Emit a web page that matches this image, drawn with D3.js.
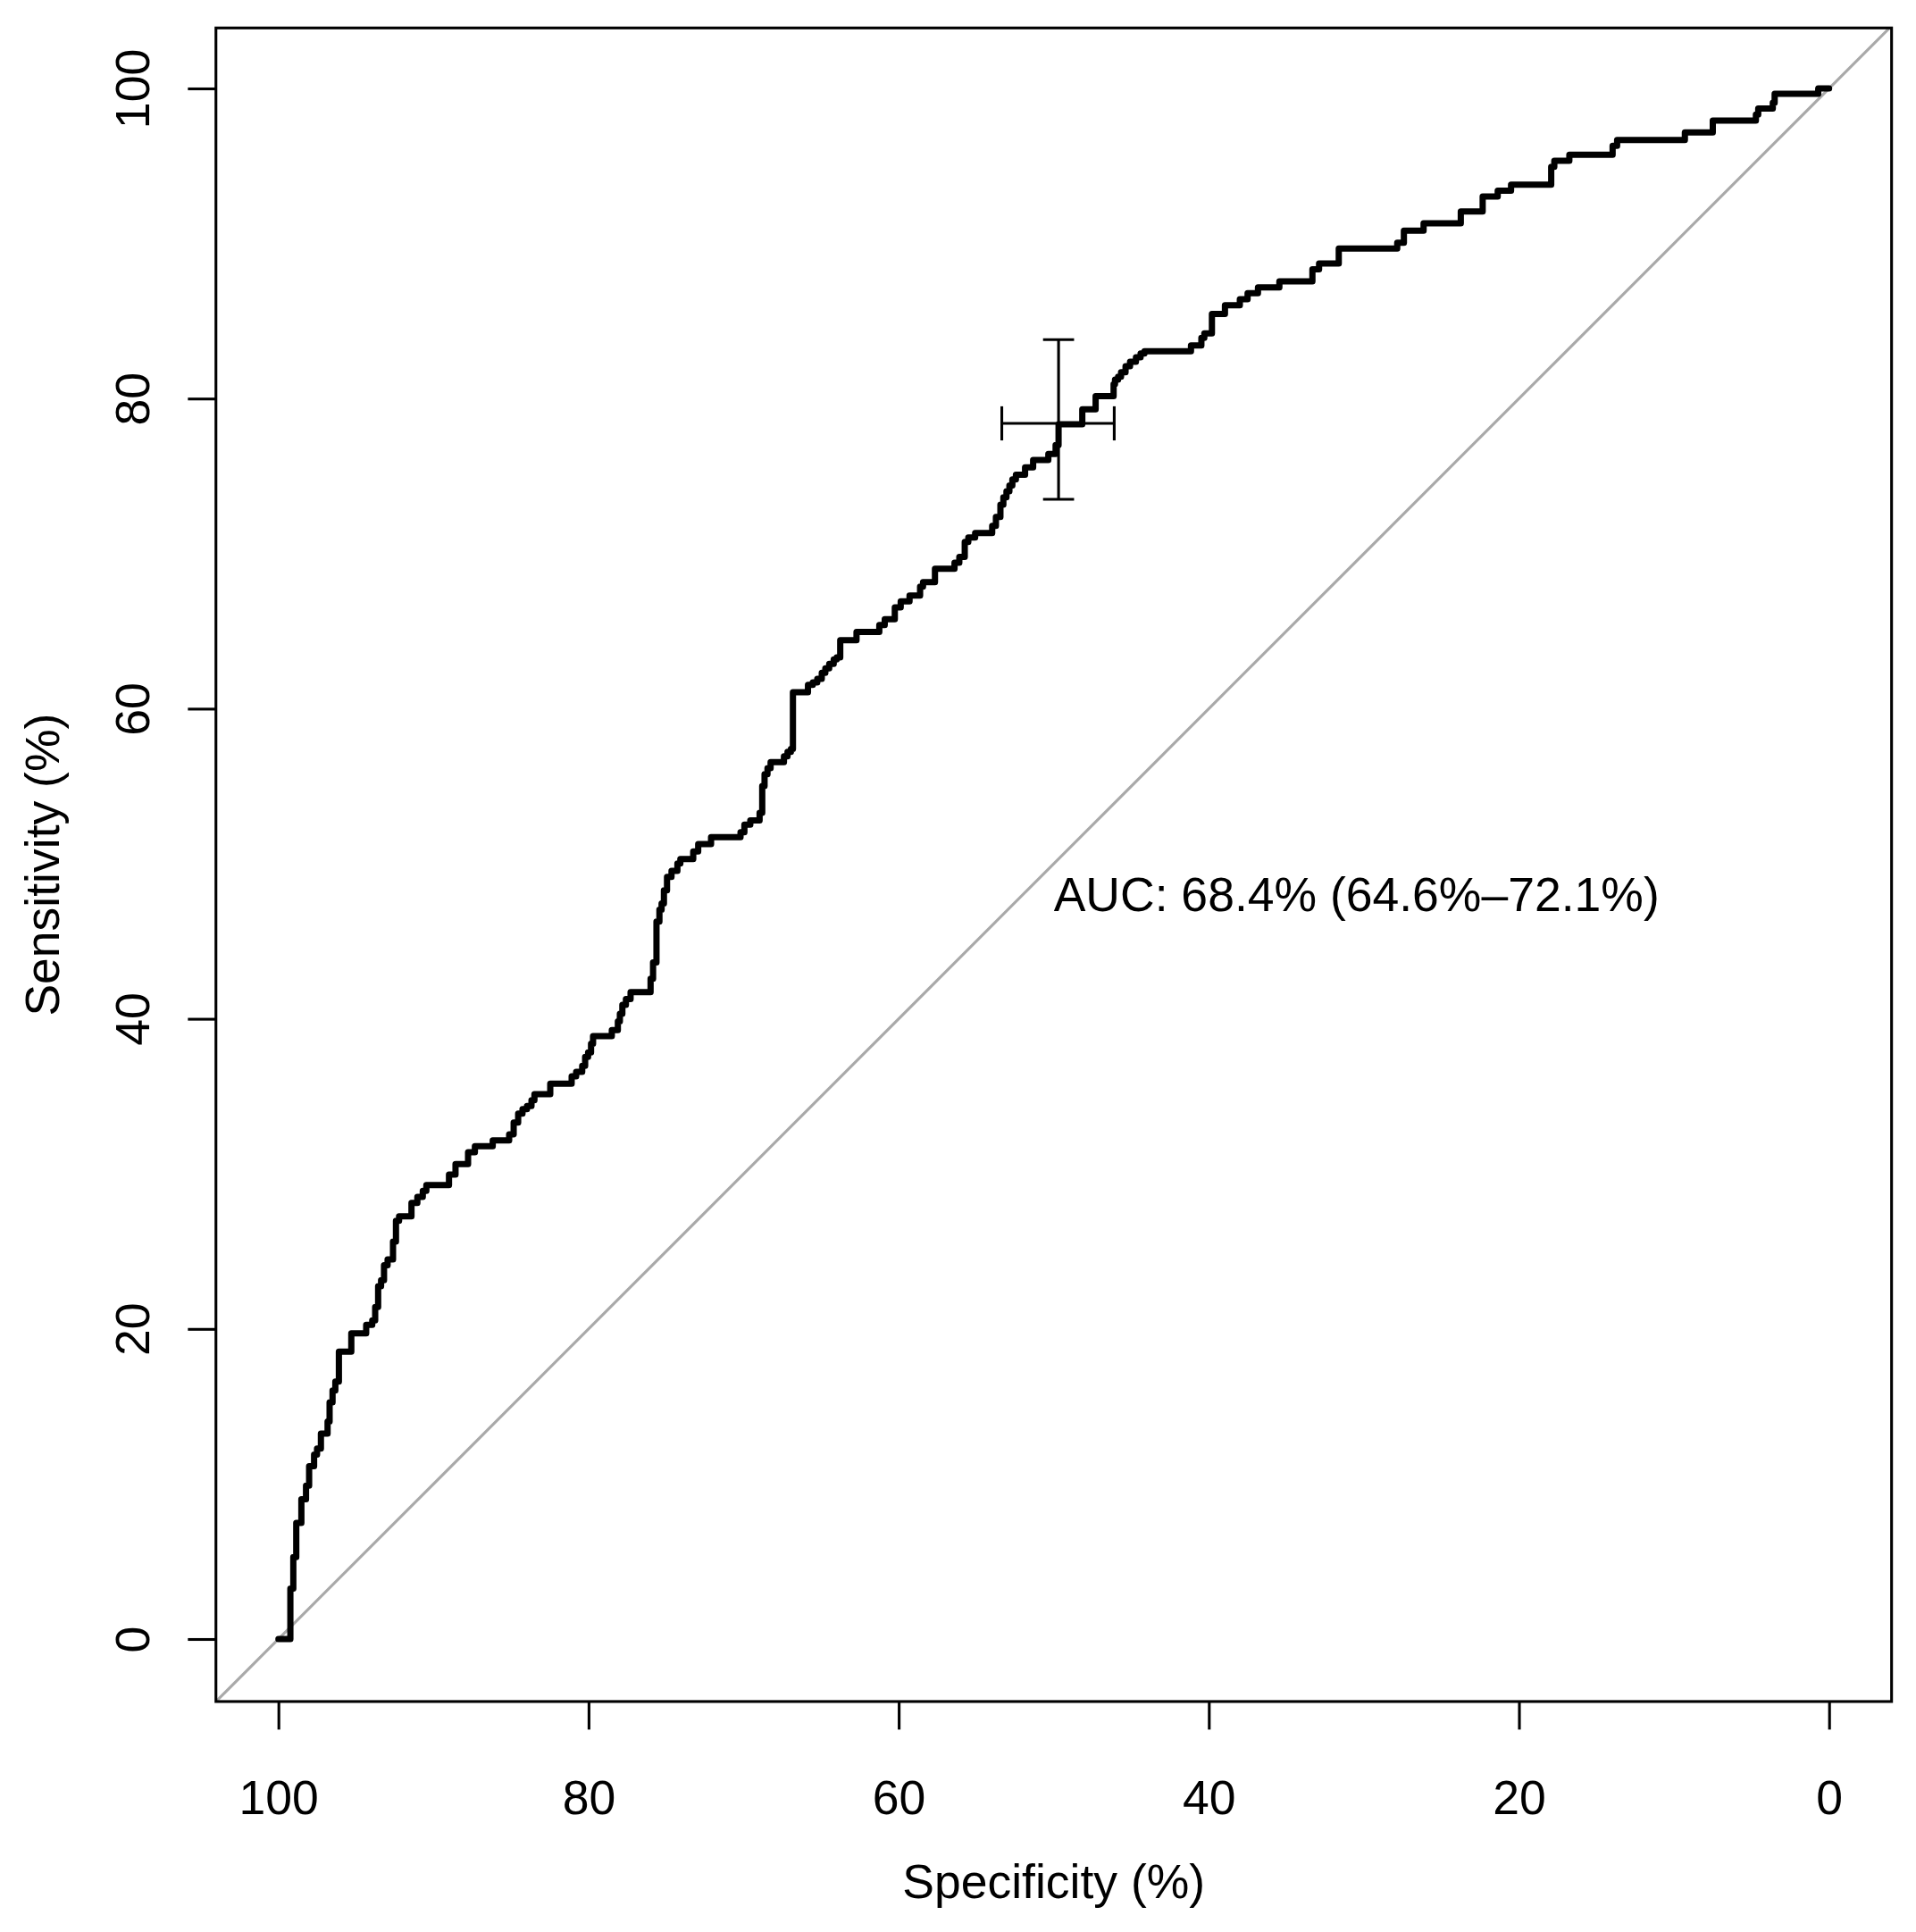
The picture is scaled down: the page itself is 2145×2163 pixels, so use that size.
<!DOCTYPE html>
<html>
<head>
<meta charset="utf-8">
<script src="https://cdn.jsdelivr.net/npm/d3@7"></script>
<style>
  body { margin: 0; background: #fff; }
  svg text { font-family: "Liberation Sans", Arial, Helvetica, sans-serif; fill: #000; }
</style>
</head>
<body>
<div id="chart"></div>
<script>
// ROC curve points (specificity %, sensitivity %), drawn as steps
const specificity = [100, 99.23, 99.04, 98.85, 98.52, 98.22, 98.02, 97.70, 97.51, 97.26,
  96.83, 96.70, 96.51, 96.33, 96.10, 95.30, 94.34, 93.95, 93.76, 93.57,
  93.38, 93.19, 92.96, 92.61, 92.42, 92.22, 91.42, 91.04, 90.69, 90.46,
  89.00, 88.58, 87.77, 87.33, 86.18, 85.12, 84.83, 84.54, 84.26, 83.97,
  83.68, 83.49, 82.47, 81.09, 80.80, 80.41, 80.22, 80.03, 79.84, 79.71,
  78.50, 78.11, 77.98, 77.82, 77.59, 77.29, 76.00, 75.84, 75.62, 75.43,
  75.29, 75.14, 74.94, 74.65, 74.27, 74.08, 73.25, 72.93, 72.10, 70.20,
  69.95, 69.57, 68.97, 68.80, 68.65, 68.46, 68.26, 67.40, 67.17, 66.95,
  66.82, 65.85, 65.54, 65.25, 64.96, 64.73, 64.48, 64.19, 64.00, 63.77,
  62.72, 61.25, 60.90, 60.25, 59.87, 59.30, 58.62, 58.43, 57.66, 56.40,
  56.09, 55.74, 55.51, 55.07, 53.97, 53.73, 53.44, 53.25, 53.05, 52.86,
  52.67, 52.44, 51.85, 51.33, 50.35, 49.88, 49.69, 48.16, 47.30, 46.14,
  46.05, 45.85, 45.66, 45.37, 45.08, 44.70, 44.40, 44.15, 41.15, 40.48,
  40.29, 39.80, 38.96, 38.00, 37.50, 36.83, 35.45, 33.32, 32.89, 31.62,
  27.85, 27.42, 26.15, 23.75, 22.34, 21.37, 20.51, 17.92, 17.72, 16.75,
  13.96, 13.67, 9.30, 7.50, 4.72, 4.57, 3.63, 3.51, 0.70, 0];
const sensitivity = [0, 3.26, 5.28, 7.49, 9.02, 9.89, 11.14, 11.90, 12.29, 13.25,
  14.02, 15.26, 16.03, 16.61, 18.53, 19.72, 20.26, 20.55, 21.41, 22.75,
  23.14, 24.10, 24.48, 25.63, 26.98, 27.26, 28.13, 28.51, 28.90, 29.28,
  29.95, 30.63, 31.39, 31.78, 32.16, 32.55, 33.31, 33.89, 34.18, 34.37,
  34.75, 35.14, 35.81, 36.29, 36.58, 36.96, 37.54, 37.83, 38.40, 38.88,
  39.27, 39.84, 40.32, 40.90, 41.28, 41.72, 42.58, 43.64, 46.27, 47.04,
  47.43, 48.29, 49.15, 49.54, 50.02, 50.30, 50.79, 51.27, 51.71, 52.03,
  52.52, 52.80, 53.28, 55.01, 55.78, 56.16, 56.55, 56.93, 57.22, 57.40,
  61.06, 61.54, 61.70, 61.92, 62.31, 62.60, 62.89, 63.17, 63.30, 64.42,
  64.95, 65.40, 65.77, 66.53, 66.92, 67.30, 67.87, 68.16, 69.03, 69.41,
  69.79, 70.75, 71.04, 71.33, 71.79, 72.37, 73.16, 73.63, 74.02, 74.40,
  74.79, 75.08, 75.56, 76.04, 76.42, 77.00, 78.34, 79.30, 80.16, 80.93,
  81.22, 81.41, 81.70, 82.08, 82.37, 82.66, 82.90, 83.05, 83.43, 83.91,
  84.20, 85.45, 86.02, 86.41, 86.79, 87.17, 87.56, 88.33, 88.71, 89.67,
  90.05, 90.82, 91.30, 92.07, 93.03, 93.41, 93.80, 94.95, 95.33, 95.72,
  96.30, 96.68, 97.17, 97.93, 98.31, 98.70, 99.08, 99.66, 100, 100];

// best threshold and its confidence intervals
const bestSpec = 49.69;
const bestSens = 78.4;
const ciSpec = [53.35, 46.1];
const ciSens = [73.5, 83.8];

const xTicks = [100, 80, 60, 40, 20, 0];
const yTicks = [0, 20, 40, 60, 80, 100];
const aucLabel = "AUC: 68.4% (64.6%\u201372.1%)";

const width = 2145;
const height = 2163;
const fontSize = 53.5;
const tick = 31.4;

const svg = d3.select("#chart")
    .append("svg")
    .attr("width", width)
    .attr("height", height);

// reversed specificity axis, same px per unit on both axes
const x = d3.scaleLinear().domain([100, 0]).range([311.7, 2047.7]);
const y = d3.scaleLinear().domain([0, 100]).range([1835, 99]);

const boxLeft = x(104.03), boxRight = x(-4.03);
const boxTop = y(103.9), boxBottom = y(-4.03);

svg.append("clipPath").attr("id", "plotclip")
    .append("rect")
    .attr("x", boxLeft).attr("y", boxTop)
    .attr("width", boxRight - boxLeft).attr("height", boxBottom - boxTop);

// identity line
svg.append("line")
    .attr("clip-path", "url(#plotclip)")
    .attr("x1", x(110)).attr("y1", y(-10))
    .attr("x2", x(-10)).attr("y2", y(110))
    .attr("stroke", "#a9a9a9")
    .attr("stroke-width", 3.1);

// ROC curve
const points = specificity.map((s, i) => [s, sensitivity[i]]);
const line = d3.line()
    .x(d => x(d[0]))
    .y(d => y(d[1]))
    .curve(d3.curveStepAfter);

svg.append("path")
    .datum(points)
    .attr("d", line)
    .attr("fill", "none")
    .attr("stroke", "#000")
    .attr("stroke-width", 7)
    .attr("stroke-linejoin", "round")
    .attr("stroke-linecap", "round");

// CI bars at best threshold
const ci = svg.append("g").attr("stroke", "#000").attr("stroke-width", 3.1);
ci.append("line")
    .attr("x1", x(bestSpec)).attr("x2", x(bestSpec))
    .attr("y1", y(ciSens[0])).attr("y2", y(ciSens[1]));
ciSens.forEach(v => {
    ci.append("line")
        .attr("x1", x(bestSpec + 1)).attr("x2", x(bestSpec - 1))
        .attr("y1", y(v)).attr("y2", y(v));
});
ci.append("line")
    .attr("x1", x(ciSpec[0])).attr("x2", x(ciSpec[1]))
    .attr("y1", y(bestSens)).attr("y2", y(bestSens));
ciSpec.forEach(v => {
    ci.append("line")
        .attr("x1", x(v)).attr("x2", x(v))
        .attr("y1", y(bestSens - 1.1)).attr("y2", y(bestSens + 1.1));
});

// AUC text
svg.append("text")
    .attr("x", x(50))
    .attr("y", 1020)
    .attr("font-size", fontSize)
    .text(aucLabel);

// axes
const xAxis = svg.append("g")
    .attr("transform", `translate(0,${boxBottom})`)
    .call(d3.axisBottom(x).tickValues(xTicks).tickSize(tick).tickFormat(d3.format("d")));
xAxis.select(".domain").remove();
xAxis.selectAll("line").attr("stroke-width", 3.1);
xAxis.selectAll("text")
    .attr("font-size", fontSize)
    .attr("font-family", null)
    .attr("dy", null)
    .attr("y", 125.6);

const yAxis = svg.append("g")
    .attr("transform", `translate(${boxLeft},0)`)
    .call(d3.axisLeft(y).tickValues(yTicks).tickSize(tick).tickFormat(d3.format("d")));
yAxis.select(".domain").remove();
yAxis.selectAll("line").attr("stroke-width", 3.1);
yAxis.selectAll("text")
    .attr("font-size", fontSize)
    .attr("font-family", null)
    .attr("x", null)
    .attr("dy", null)
    .attr("text-anchor", "middle")
    .attr("transform", "translate(-75,0) rotate(-90)");

// box
svg.append("rect")
    .attr("x", boxLeft).attr("y", boxTop)
    .attr("width", boxRight - boxLeft).attr("height", boxBottom - boxTop)
    .attr("fill", "none")
    .attr("stroke", "#000")
    .attr("stroke-width", 3.1);

// axis titles
svg.append("text")
    .attr("x", (boxLeft + boxRight) / 2)
    .attr("y", 2125)
    .attr("text-anchor", "middle")
    .attr("font-size", fontSize)
    .text("Specificity (%)");

svg.append("text")
    .attr("transform", `translate(66,${(boxTop + boxBottom) / 2}) rotate(-90)`)
    .attr("text-anchor", "middle")
    .attr("font-size", fontSize)
    .text("Sensitivity (%)");
</script>
</body>
</html>
